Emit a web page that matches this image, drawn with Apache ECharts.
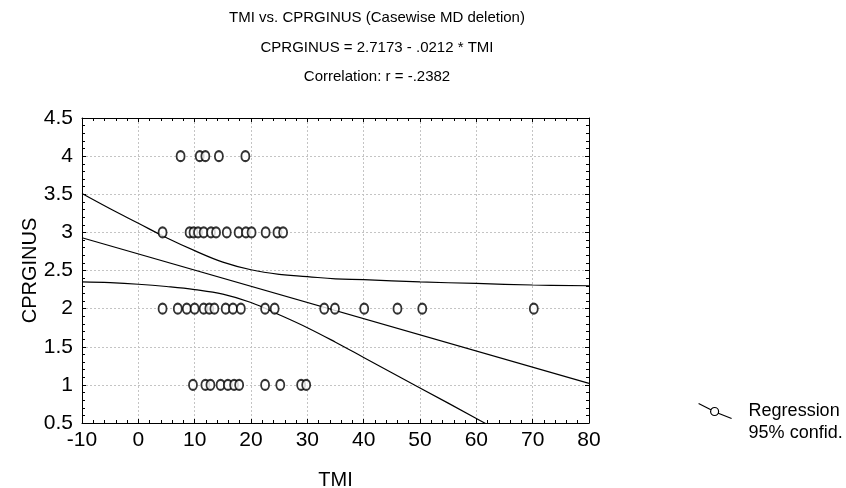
<!DOCTYPE html>
<html>
<head>
<meta charset="utf-8">
<script src="https://cdn.jsdelivr.net/npm/echarts@6/dist/echarts.min.js"></script>
<style>
  html, body { margin: 0; padding: 0; background: #fff; }
  #chart { width: 846px; height: 488px; }
</style>
</head>
<body>
<div id="chart"></div>
<script>
// TMI values for each CPRGINUS level
const tmiAt4 = [7.5, 10.9, 11.9, 14.3, 19.0]
const tmiAt3 = [4.3, 9.1, 9.8, 10.6, 11.6, 12.9, 13.8, 15.7, 17.8, 19.1, 20.1, 22.6, 24.7, 25.7]
const tmiAt2 = [4.3, 7.0, 8.6, 10.0, 11.6, 12.6, 13.5, 15.5, 16.8, 18.2, 22.5, 24.2, 33.0, 34.9, 40.1, 46.0, 50.4, 70.2]
const tmiAt1 = [9.7, 11.9, 12.8, 14.6, 15.9, 17.0, 17.9, 22.5, 25.2, 28.9, 29.8]
const levels = [4, 3, 2, 1]

// regression line end points
const regX = [-10, 80]
const regY = [2.93, 1.02]

// 95% confidence band
const bandX = [-10, -5, 0, 5, 10, 15, 20, 25, 30, 35, 40, 50, 60, 70, 80]
const bandUpper = [3.51, 3.31, 3.12, 2.93, 2.76, 2.61, 2.51, 2.45, 2.42, 2.39, 2.38, 2.35, 2.33, 2.31, 2.30]
const bandLower = [2.35, 2.34, 2.32, 2.29, 2.25, 2.19, 2.08, 1.92, 1.75, 1.56, 1.36, 0.96, 0.56, 0.15, -0.26]

const titleLines = [
  'TMI vs. CPRGINUS (Casewise MD deletion)',
  'CPRGINUS = 2.7173 - .0212 * TMI',
  'Correlation: r = -.2382'
]

const points = [tmiAt4, tmiAt3, tmiAt2, tmiAt1].flatMap((xs, i) => xs.map(x => [x, levels[i]]))
const font = 'Liberation Sans, Arial, sans-serif'
const labelSize = 21
const nameSize = 20

// slanted line through a small ring, like the legend key in the original
const regIcon = 'path://M0,0 L12.3,6.2 M19.7,9.8 L33,15 M20,8 A4,4 0 1 1 12,8 A4,4 0 1 1 20,8 Z'

const frameAxis = {
  axisLine: { show: true, onZero: false, lineStyle: { color: '#000', width: 1 } },
  axisTick: { show: true, inside: true, length: 4, lineStyle: { color: '#000' } },
  minorTick: { show: true, splitNumber: 5, length: 3, lineStyle: { color: '#000' } },
  splitLine: { show: false },
  axisLabel: { show: false }
}

const chart = echarts.init(document.getElementById('chart'), null, { renderer: 'canvas' })
chart.setOption({
  animation: false,
  backgroundColor: '#fff',
  textStyle: { fontFamily: font },
  title: titleLines.map((t, i) => ({
    text: t,
    left: 377,
    textAlign: 'center',
    top: 10.5 + i * 29.5,
    padding: 0,
    textStyle: { fontFamily: font, fontSize: 15, fontWeight: 'normal', color: '#000' }
  })),
  grid: { left: 82, right: 257, top: 118, bottom: 65, containLabel: false, outerBoundsMode: 'none' },
  legend: {
    orient: 'vertical',
    left: 698,
    top: 402,
    itemWidth: 33,
    itemHeight: 15,
    itemGap: 4,
    padding: 0,
    selectedMode: false,
    textStyle: { fontFamily: font, fontSize: 18, color: '#000', padding: [0, 0, 0, 12] },
    data: [
      { name: 'Regression', icon: regIcon, itemStyle: { color: 'rgba(0,0,0,0)', borderColor: '#000', borderWidth: 1.2 } },
      { name: '95% confid.', icon: 'rect', itemStyle: { opacity: 0 } }
    ]
  },
  xAxis: [
    {
      type: 'value', min: -10, max: 80, interval: 10, position: 'bottom',
      name: 'TMI', nameLocation: 'middle', nameGap: 47,
      nameTextStyle: { fontFamily: font, fontSize: nameSize, color: '#000' },
      axisLine: { show: true, onZero: false, lineStyle: { color: '#000', width: 1 } },
      axisTick: { show: true, inside: true, length: 4, lineStyle: { color: '#000' } },
      minorTick: { show: true, splitNumber: 5, length: 3, lineStyle: { color: '#000' } },
      axisLabel: { fontFamily: font, fontSize: labelSize, color: '#000', margin: 7 },
      splitLine: { show: true, lineStyle: { color: '#c4c4c4', type: [2, 2] } }
    },
    Object.assign({ type: 'value', min: -10, max: 80, interval: 10, position: 'top' }, frameAxis)
  ],
  yAxis: [
    {
      type: 'value', min: 0.5, max: 4.5, interval: 0.5, position: 'left',
      name: 'CPRGINUS', nameLocation: 'middle', nameGap: 42, nameRotate: 90,
      nameMoveOverlap: false,
      nameTextStyle: { fontFamily: font, fontSize: nameSize, color: '#000' },
      axisLine: { show: true, onZero: false, lineStyle: { color: '#000', width: 1 } },
      axisTick: { show: true, inside: true, length: 4, lineStyle: { color: '#000' } },
      minorTick: { show: true, splitNumber: 5, length: 3, lineStyle: { color: '#000' } },
      axisLabel: { fontFamily: font, fontSize: labelSize, color: '#000', margin: 9 },
      splitLine: { show: true, lineStyle: { color: '#c4c4c4', type: [2, 2] } }
    },
    Object.assign({ type: 'value', min: 0.5, max: 4.5, interval: 0.5, position: 'right' }, frameAxis)
  ],
  series: [
    {
      name: 'points',
      type: 'scatter',
      data: points,
      symbol: 'emptyCircle',
      symbolSize: [8, 10],
      itemStyle: { color: '#000', borderColor: '#000', borderWidth: 1.3 },
      z: 3
    },
    {
      name: 'Regression',
      type: 'line',
      data: regX.map((x, i) => [x, regY[i]]),
      symbol: 'none',
      lineStyle: { color: '#000', width: 1.2 },
      itemStyle: { color: '#000' },
      z: 2
    },
    {
      name: '95% confid.',
      type: 'line',
      data: bandX.map((x, i) => [x, bandUpper[i]]),
      symbol: 'none',
      smooth: 0.4,
      clip: true,
      lineStyle: { color: '#000', width: 1.2 },
      itemStyle: { color: '#000' },
      z: 2
    },
    {
      name: '95% confid.',
      type: 'line',
      data: bandX.map((x, i) => [x, bandLower[i]]),
      symbol: 'none',
      smooth: 0.4,
      clip: true,
      lineStyle: { color: '#000', width: 1.2 },
      itemStyle: { color: '#000' },
      z: 2
    }
  ]
})
</script>
</body>
</html>
